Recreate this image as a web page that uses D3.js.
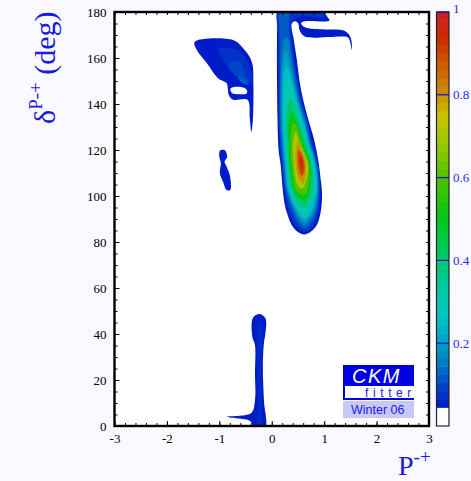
<!DOCTYPE html>
<html><head><meta charset="utf-8">
<script src="https://cdnjs.cloudflare.com/ajax/libs/d3/7.8.5/d3.min.js"></script>
<style>html,body{margin:0;padding:0;background:#f9f9ff;overflow:hidden}svg{display:block}</style>
</head><body><div id="c"></div>
<script>
const xMajor=[-3,-2,-1,0,1,2,3];
const yMajor=[0,20,40,60,80,100,120,140,160,180];
const cbTicks=[0.2,0.4,0.6,0.8,1];
const colorStops=[0.045,0.1,0.15,0.2,0.27,0.34,0.42,0.5,0.6,0.7,0.75,0.8,0.88,0.94,1];
const colorHex=["#0018c8","#0048c8","#0078c4","#00a0c4","#00c8c0","#00c89c","#00c860","#00c818","#50c000","#a8c800","#c8c000","#cc9000","#cc5800","#cc2800","#cc2020"];

// contour polygons: [P, delta]
const mainLevels=[0.05,0.08,0.12,0.16,0.2,0.25,0.3,0.4,0.5,0.6,0.7,0.8,0.9,0.97];
const main05=[[.11,182],[.11,180],[.10,168],[.10,150],[.11,133],[.13,120],[.17,113.5],[.21,102.6],[.25,96],[.30,92],[.38,87.4],[.50,84.3],[.63,83.3],[.76,84.8],[.86,87.4],[.93,92.6],[.96,100.4],[.93,107.8],[.88,116.5],[.80,125.2],[.70,133],[.60,141.7],[.53,150],[.48,159],[.42,168],[.38,174.8],[.44,176],[.50,175.2],[.53,172.2],[.59,170],[.69,169],[1.39,169.3],[1.46,168.8],[1.50,166.5],[1.52,163.5],[1.525,167],[1.47,170.3],[1.37,172],[1.01,172.4],[.67,173],[.59,174],[.56,175.2],[.63,176],[1.10,176.3],[1.05,178.3],[1.01,180],[1.0,182]];
const main08=[[.14,182],[.13,168],[.13,150],[.13,133],[.15,124],[.19,113.5],[.24,102.6],[.34,92.6],[.48,86.5],[.63,84.3],[.78,86.5],[.89,92.6],[.92,102.6],[.89,113.5],[.76,124.3],[.68,133],[.57,141.7],[.50,150.4],[.42,161],[.37,172],[.38,175.5],[.55,178],[1.0,178],[.98,182]];
const main12=[[.17,182],[.15,168],[.15,150],[.15,133],[.17,124],[.21,113.5],[.26,102.6],[.40,92.6],[.51,87.8],[.63,85.6],[.74,87.8],[.85,92.6],[.90,102.6],[.87,113.5],[.74,124.3],[.66,133],[.54,141.7],[.47,150.4],[.39,161],[.33,172],[.30,182]];
const main16=[[.25,168.7],[.19,161],[.17,150.4],[.17,133],[.19,124],[.23,113.5],[.29,102.6],[.44,92.6],[.53,89],[.63,87],[.72,89],[.82,92.6],[.89,102.6],[.85,113.5],[.72,124.3],[.63,133],[.51,141.7],[.44,150.4],[.36,161],[.30,168.7]];
const main20=[[.27,163.5],[.21,157],[.19,150.4],[.19,133],[.21,124],[.25,113.5],[.30,102.6],[.48,92.6],[.55,90],[.63,88.7],[.70,90],[.78,92.6],[.87,102.6],[.84,113.5],[.70,124.3],[.61,133],[.50,141.7],[.41,150.4],[.34,158.3]];
const main25=[[.29,157],[.23,152.6],[.21,141.7],[.21,133],[.23,124.3],[.27,113.5],[.32,102.6],[.51,92.6],[.63,90],[.74,92.6],[.86,102.6],[.82,113.5],[.69,124.3],[.59,133],[.47,141.7],[.38,150.4]];
const main30=[[.32,151.3],[.25,147],[.23,141.7],[.23,133],[.25,124.3],[.29,113.5],[.34,102.6],[.55,92.6],[.63,91.7],[.70,94.3],[.82,102.6],[.80,113.5],[.67,124.3],[.56,133],[.44,141.7],[.38,148.3]];
const main40=[[.36,142.6],[.29,138.3],[.27,133],[.29,124.3],[.31,113.5],[.38,102.6],[.51,97],[.63,94.8],[.70,97],[.78,102.6],[.77,113.5],[.63,124.3],[.51,133],[.44,139]];
const main50=[[.38,136.5],[.32,133],[.32,124.3],[.34,113.5],[.42,102.6],[.53,99],[.63,97.8],[.70,100.4],[.74,107],[.74,113.5],[.59,124.3],[.46,133]];
const main60=[[.41,132],[.36,126.5],[.36,122],[.38,113.5],[.46,102.6],[.55,100.9],[.63,100.4],[.70,104.8],[.71,113.5],[.55,124.3],[.48,130]];
const main70=[[.46,127.8],[.41,124.3],[.42,113.5],[.51,103.9],[.59,103.3],[.65,106],[.69,113.5],[.51,124.3]];
const main80=[[.50,123.9],[.46,120],[.46,113.5],[.53,107],[.61,105.6],[.65,110.4],[.65,114.8],[.55,121.3]];
const main90=[[.51,120],[.50,113.5],[.57,108.7],[.62,110.4],[.62,114.3],[.56,118.7]];
const main97=[[.53,117],[.54,113.5],[.58,110.9],[.59,113.5],[.57,116.7]];
const mainPolys=[main05,main08,main12,main16,main20,main25,main30,main40,main50,main60,main70,main80,main90,main97];

const leftBlob=[[-1.47,167],[-.74,167.8],[-.55,164.3],[-.38,158.3],[-.35,148.3],[-.35,141.7],[-.36,133],[-.39,127.8],[-.42,134],[-.46,141.7],[-.74,141.9],[-.82,143.9],[-.84,147],[-.86,149],[-1.03,151.3],[-1.24,157.8],[-1.43,163.5]];
const leftHole=[[-.79,146.6],[-.72,147.4],[-.52,147],[-.47,145.8],[-.48,144.6],[-.62,144.2],[-.76,144.8]];
const leftInner1=[[-1.03,164],[-.61,163],[-.42,156],[-.39,149],[-.68,152],[-.95,160]];
const leftInner2=[[-.84,157.5],[-.61,158.5],[-.49,152],[-.43,148.5],[-.61,151],[-.80,155]];
const leftInner3=[[-.65,152],[-.50,150.5],[-.46,148.5],[-.58,149.5]];
const smallBlob=[[-.99,119.7],[-.90,120],[-.85,117],[-.90,115],[-.86,112.7],[-.80,109],[-.79,102.6],[-.86,102.6],[-.93,106.2],[-.99,110],[-.97,114.3],[-1.0,117]];
const bottomBlob=[[-.23,48.7],[-.12,46.8],[-.12,40.4],[-.15,36],[-.17,25.8],[-.15,11.3],[-.13,-1],[-.37,-1],[-.37,0.4],[-.42,2.3],[-.86,4],[-.39,5.7],[-.32,11.3],[-.32,23],[-.32,35.2],[-.37,38.8],[-.36,47]];
const bottomInner=[[-.24,46],[-.19,44],[-.20,25],[-.19,8],[-.19,-1],[-.27,-1],[-.27,10],[-.27,30],[-.28,42]];

const W=471,H=481,X0=114.5,X1=429,Y0=426,Y1=12;
const x=d3.scaleLinear().domain([-3,3]).range([X0,X1]);
const y=d3.scaleLinear().domain([0,180]).range([Y0,Y1]);
const cb=d3.scaleLinear().domain([0,1]).range([Y0,Y1]);
const color=d3.scaleLinear().domain(colorStops).range(colorHex).interpolate(d3.interpolateRgb).clamp(true);

const svg=d3.select("#c").append("svg").attr("width",W).attr("height",H);
svg.append("rect").attr("width",W).attr("height",H).attr("fill","#f9f9ff");
svg.append("clipPath").attr("id","pc").append("rect").attr("x",X0).attr("y",Y1).attr("width",X1-X0).attr("height",Y0-Y1);
svg.append("rect").attr("x",X0).attr("y",Y1).attr("width",X1-X0).attr("height",Y0-Y1).attr("fill","#fff");

const line=d3.line().x(d=>x(d[0])).y(d=>y(d[1])).curve(d3.curveCatmullRomClosed.alpha(0.5));
const g=svg.append("g").attr("clip-path","url(#pc)");
const draw=(p,v)=>g.append("path").attr("d",line(p)).attr("fill",v<0.045?"#fff":color(v));
draw(leftBlob,0.05);draw(leftHole,0);draw(leftInner1,0.075);draw(leftInner2,0.095);draw(leftInner3,0.12);
draw(smallBlob,0.05);
draw(bottomBlob,0.05);draw(bottomInner,0.065);
mainPolys.forEach((p,i)=>draw(p,mainLevels[i]));

// axes
const tickStyle=s=>{s.select(".domain").remove();s.selectAll("line").attr("stroke","#000").attr("stroke-width",1);
  s.selectAll("text").attr("font-family","'Liberation Serif',serif").attr("font-size",13).attr("fill","#000").style("-webkit-text-stroke","0.25px #000");};
const xMinor=d3.range(-3,3.001,0.2), yMinor=d3.range(0,180.01,5);
const ax=(axis,scale,vals,len,lab,tx,ty)=>{
  const a=axis(scale).tickValues(vals).tickSizeInner(len).tickSizeOuter(0).tickPadding(lab?8:0).tickFormat(lab?(d=>d):"");
  svg.append("g").attr("transform",`translate(${tx},${ty})`).call(a).call(tickStyle);
};
ax(d3.axisBottom,x,xMinor,-3,false,0,Y0);
ax(d3.axisBottom,x,xMajor,-5,true,0,Y0);
ax(d3.axisTop,x,xMinor,-3,false,0,Y1);
ax(d3.axisLeft,y,yMinor,-3,false,X0,0);
ax(d3.axisLeft,y,yMajor,-5,true,X0,0);
ax(d3.axisRight,y,yMinor,-3,false,X1,0);
svg.append("rect").attr("x",X0).attr("y",Y1).attr("width",X1-X0).attr("height",Y0-Y1).attr("fill","none").attr("stroke","#000").attr("stroke-width",2.4);

// colour bar
const CB0=436.5,CB1=449;
const bandEdges=d3.range(0.045,0.9999,0.0199);
svg.append("rect").attr("x",CB0).attr("y",Y1).attr("width",CB1-CB0).attr("height",Y0-Y1).attr("fill","#fff");
bandEdges.forEach(b=>{
  const t=Math.min(1,b+0.0199);
  svg.append("rect").attr("x",CB0).attr("width",CB1-CB0).attr("y",cb(t)).attr("height",cb(b)-cb(t)+0.5).attr("fill",color(b+0.01));
});
svg.append("rect").attr("x",CB0).attr("y",Y1).attr("width",CB1-CB0).attr("height",Y0-Y1).attr("fill","none").attr("stroke","#222").attr("stroke-width",1.2);
cbTicks.forEach(v=>{
  svg.append("line").attr("x1",CB0).attr("x2",CB1).attr("y1",cb(v)).attr("y2",cb(v)).attr("stroke","#1010e0").attr("stroke-width",1.2);
  svg.append("text").attr("x",453).attr("y",cb(v)+(v===1?1:4.5)).text(v).attr("font-family","'Liberation Serif',serif").attr("font-size",13).attr("fill","#2a2ae8");
});

// axis titles
const xt=svg.append("text").attr("x",398).attr("y",474.8).attr("font-family","'Liberation Serif',serif").attr("fill","#1a1ae0").attr("font-size",28);
xt.append("tspan").text("P");
xt.append("tspan").text("-+").attr("font-size",19).attr("dy",-12);
const yt=svg.append("text").attr("transform","translate(55,124) rotate(-90)").attr("font-family","'Liberation Serif',serif").attr("fill","#1a1ae0").attr("font-size",30);
yt.append("tspan").text("δ");
yt.append("tspan").text("P-+").attr("font-size",19).attr("dy",-13);
yt.append("tspan").text(" (deg)").attr("dy",13);

// logo
svg.append("rect").attr("x",343).attr("y",365).attr("width",71).attr("height",35).attr("fill","#0000e0");
svg.append("rect").attr("x",345).attr("y",386).attr("width",69).attr("height",12).attr("fill","#fff");
svg.append("text").attr("x",352).attr("y",383).text("CKM").attr("font-family","'Liberation Sans',sans-serif").attr("font-style","italic").attr("font-size",20).attr("letter-spacing",1.5).attr("fill","#fff");
svg.append("text").attr("x",365).attr("y",397).text("fitter").attr("font-family","'Liberation Sans',sans-serif").attr("font-size",12).attr("letter-spacing",4.6).attr("fill","#1a1ae0");
svg.append("rect").attr("x",343).attr("y",401).attr("width",71).attr("height",17).attr("fill","#c8c8f8");
svg.append("text").attr("x",351).attr("y",414).text("Winter 06").attr("font-family","'Liberation Sans',sans-serif").attr("font-size",12.5).attr("fill","#1a1ae0");
</script></body></html>
